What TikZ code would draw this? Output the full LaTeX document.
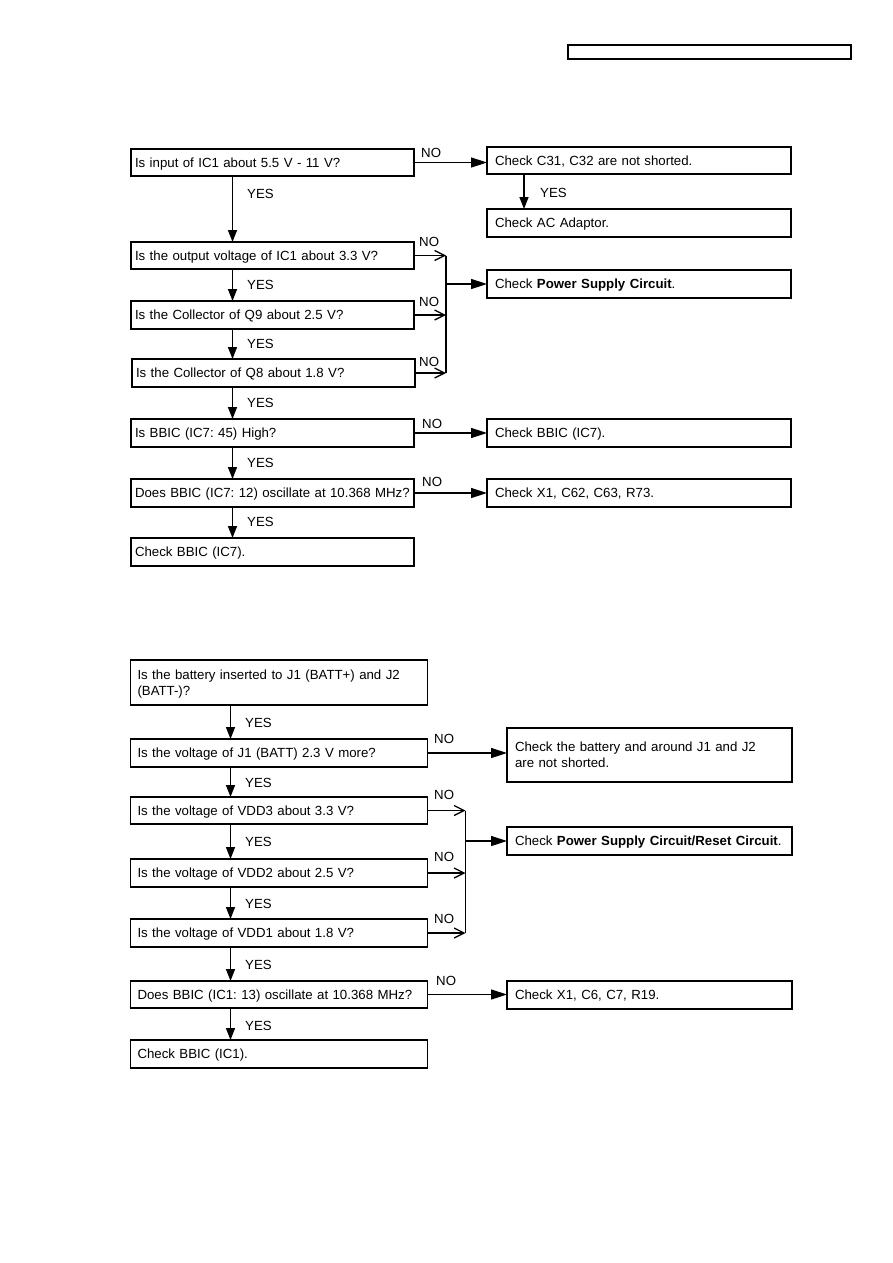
\documentclass[tikz,border=0pt]{standalone}
\usepackage{fontspec}
\setmainfont{Liberation Sans}
\usetikzlibrary{arrows.meta}
\begin{document}
\begin{tikzpicture}[x=1pt,y=-1pt,
  font=\fontsize{13.25}{16.5}\selectfont\frenchspacing,
  lbox/.style={draw, line width=1.5pt, anchor=north west, align=left,
    inner ysep=0pt, outer sep=0pt, minimum height=28pt},
  sl/.style={text height=9.6pt, text depth=0pt},
  tl/.style={lbox, sl, inner xsep=4pt, text width=275pt},
  bl/.style={lbox, sl, inner xsep=7pt, text width=283pt},
  tr/.style={lbox, sl, inner xsep=8pt, text width=288pt},
  br/.style={lbox, sl, inner xsep=8pt, text width=269pt},
  lab/.style={inner sep=0pt, anchor=west},
  varr/.style={line width=1.5pt, -{Triangle[length=12pt,width=9pt]}},
  harr/.style={line width=1.5pt, -{Triangle[length=16pt,width=10pt]}},
  barb/.style={line width=1.3pt, -{Straight Barb[length=10pt,width=10pt,line width=1.3pt]}},
  bus/.style={line width=1.3pt}]
\useasboundingbox (0,0) rectangle (893,1263);
\fill[white] (0,0) rectangle (893,1263);

% header box
\node[draw, line width=1.2pt, anchor=north west, minimum width=283pt, minimum height=14pt, inner sep=0pt, outer sep=0pt] (hdr) at (568,45) {};

% ---------- top flowchart ----------
\node[tl, minimum height=27pt] (A) at (131,149) {\mbox{Is input of IC1 about 5.5 V - 11 V?}};
\node[tl, minimum height=27pt] (B) at (131,242) {\mbox{Is the output voltage of IC1 about 3.3 V?}};
\node[tl] (C) at (131,301) {\mbox{Is the Collector of Q9 about 2.5 V?}};
\node[tl] (D) at (132,359) {\mbox{Is the Collector of Q8 about 1.8 V?}};
\node[tl] (E) at (131,419) {\mbox{Is BBIC (IC7: 45) High?}};
\node[tl] (F) at (131,479) {\mbox{Does BBIC (IC7: 12) oscillate at 10.368 MHz?}};
\node[tl] (G) at (131,538) {\mbox{Check BBIC (IC7).}};

\node[tr, minimum height=27pt] (R1) at (487,147) {\mbox{Check C31, C32 are not shorted.}};
\node[tr] (R2) at (487,209) {\mbox{Check AC Adaptor.}};
\node[tr] (R3) at (487,270) {\mbox{Check \textbf{Power Supply Circuit}.}};
\node[tr] (R4) at (487,419) {\mbox{Check BBIC (IC7).}};
\node[tr] (R5) at (487,479) {\mbox{Check X1, C62, C63, R73.}};

\coordinate (xt) at (232.5,0);
\coordinate (xr) at (524,0);
\coordinate (bus1) at (446,0);

\draw[varr] (A.south -| xt) -- (B.north -| xt);
\draw[varr] (B.south -| xt) -- (C.north -| xt);
\draw[varr] (C.south -| xt) -- (D.north -| xt);
\draw[varr] (D.south -| xt) -- (E.north -| xt);
\draw[varr] (E.south -| xt) -- (F.north -| xt);
\draw[varr] (F.south -| xt) -- (G.north -| xt);
\draw[varr] (R1.south -| xr) -- (R2.north -| xr);

\draw[harr] (A.east) -- (A.east -| R1.west);
\draw[harr] (E.east) -- (E.east -| R4.west);
\draw[harr] (F.east) -- (F.east -| R5.west);

\draw[barb] (B.east) -- (B.east -| bus1);
\draw[barb] (C.east) -- (C.east -| bus1);
\draw[barb] (D.east) -- (D.east -| bus1);
\draw[bus] (B.east -| bus1) -- (D.east -| bus1);
\draw[harr] (R3.west -| bus1) -- (R3.west);

\node[lab] (yA) at (247,194) {YES};
\node[lab] (yB) at (247,285) {YES};
\node[lab] (yC) at (247,344) {YES};
\node[lab] (yD) at (247,403) {YES};
\node[lab] (yE) at (247,463) {YES};
\node[lab] (yF) at (247,522) {YES};
\node[lab] (yR) at (540,193) {YES};

\node[lab] (nA) at (421,153) {NO};
\node[lab] (nB) at (419,242) {NO};
\node[lab] (nC) at (419,302) {NO};
\node[lab] (nD) at (419,362) {NO};
\node[lab] (nE) at (422,424) {NO};
\node[lab] (nF) at (422,482) {NO};

% ---------- bottom flowchart ----------
\node[lbox, inner xsep=7pt, text width=283pt, minimum height=45pt, text height=12pt, text depth=19pt] (H) at (130.5,660) {\mbox{Is the battery inserted to J1 (BATT+) and J2}\\(BATT-)?};
\node[bl] (I) at (130.5,739) {\mbox{Is the voltage of J1 (BATT) 2.3 V more?}};
\node[bl, minimum height=27pt] (K) at (130.5,797) {\mbox{Is the voltage of VDD3 about 3.3 V?}};
\node[bl] (L) at (130.5,859) {\mbox{Is the voltage of VDD2 about 2.5 V?}};
\node[bl] (M) at (130.5,919) {\mbox{Is the voltage of VDD1 about 1.8 V?}};
\node[bl, minimum height=27pt] (N) at (130.5,981) {\mbox{Does BBIC (IC1: 13) oscillate at 10.368 MHz?}};
\node[bl] (O) at (130.5,1040) {\mbox{Check BBIC (IC1).}};

\node[lbox, inner xsep=8pt, text width=269pt, minimum height=54pt] (J) at (507,728) {\mbox{Check the battery and around J1 and J2}\\are not shorted.};
\node[br] (P) at (507,827) {\mbox{Check \textbf{Power Supply Circuit/Reset Circuit}.}};
\node[br] (Q) at (507,981) {\mbox{Check X1, C6, C7, R19.}};

\coordinate (xb) at (230.5,0);
\coordinate (bus2) at (465.5,0);

\draw[varr] (H.south -| xb) -- (I.north -| xb);
\draw[varr] (I.south -| xb) -- (K.north -| xb);
\draw[varr] (K.south -| xb) -- (L.north -| xb);
\draw[varr] (L.south -| xb) -- (M.north -| xb);
\draw[varr] (M.south -| xb) -- (N.north -| xb);
\draw[varr] (N.south -| xb) -- (O.north -| xb);

\draw[harr] (I.east) -- (I.east -| J.west);
\draw[harr] (N.east) -- (N.east -| Q.west);

\draw[barb] (K.east) -- (K.east -| bus2);
\draw[barb] (L.east) -- (L.east -| bus2);
\draw[barb] (M.east) -- (M.east -| bus2);
\draw[bus] (K.east -| bus2) -- (M.east -| bus2);
\draw[harr] (P.west -| bus2) -- (P.west);

\node[lab] (yH) at (245,723) {YES};
\node[lab] (yI) at (245,783) {YES};
\node[lab] (yK) at (245,842) {YES};
\node[lab] (yL) at (245,904) {YES};
\node[lab] (yM) at (245,965) {YES};
\node[lab] (yN) at (245,1026) {YES};

\node[lab] (nI) at (434,739) {NO};
\node[lab] (nK) at (434,795) {NO};
\node[lab] (nL) at (434,857) {NO};
\node[lab] (nM) at (434,919) {NO};
\node[lab] (nN) at (436,981) {NO};
\end{tikzpicture}
\end{document}
